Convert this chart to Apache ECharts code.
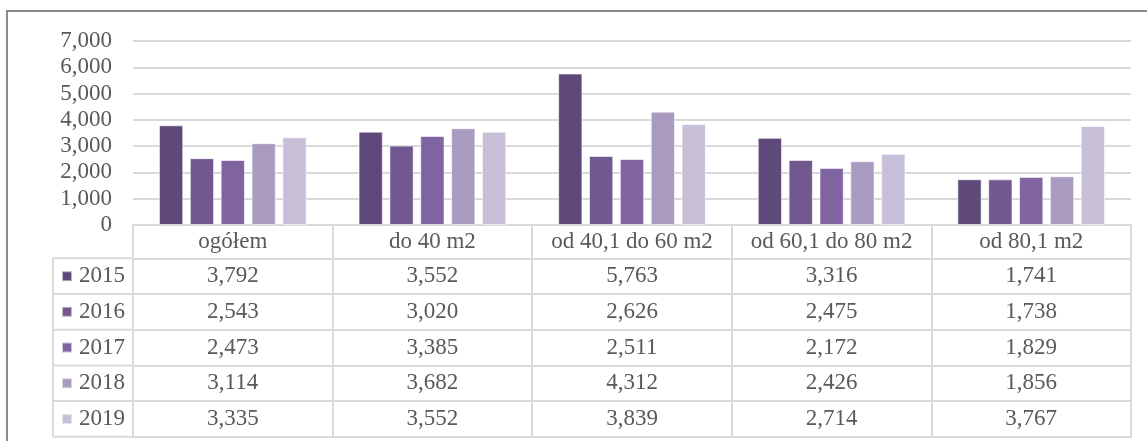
<!DOCTYPE html>
<html>
<head>
<meta charset="utf-8">
<script src="https://cdn.jsdelivr.net/npm/echarts@6/dist/echarts.min.js"></script>
<style>
    html, body { margin: 0; padding: 0; background: #fff; }
    #chart { width: 1147px; height: 441px; }
</style>
</head>
<body>
<div id="chart"></div>
<script>
var categories = ['ogółem', 'do 40 m2', 'od 40,1 do 60 m2', 'od 60,1 do 80 m2', 'od 80,1 m2'];
var years = ['2015', '2016', '2017', '2018', '2019'];
var s2015 = [3792, 3552, 5763, 3316, 1741];
var s2016 = [2543, 3020, 2626, 2475, 1738];
var s2017 = [2473, 3385, 2511, 2172, 1829];
var s2018 = [3114, 3682, 4312, 2426, 1856];
var s2019 = [3335, 3552, 3839, 2714, 3767];
var yTicks = [0, 1000, 2000, 3000, 4000, 5000, 6000, 7000];

var seriesData = [s2015, s2016, s2017, s2018, s2019];
var colors = ['#5f497a', '#71588f', '#8064a2', '#a99bbf', '#c7bfd8'];

var font = "'Liberation Serif', 'DejaVu Serif', serif";
var textColor = '#595959';
var lineColor = '#d9d9d9';

// layout of the plot and data table
var gridLeft = 133, gridRight = 16, gridTop = 41, baseY = 225;
var headH = 33.3, rowH = 35.7, legendColW = 80;

function fmt(v) {
    return String(v).replace(/\B(?=(\d{3})+(?!\d))/g, ',');
}

var chart = echarts.init(document.getElementById('chart'));

var xAxes = [{
    type: 'category',
    data: categories,
    position: 'bottom',
    axisLine: { show: true, lineStyle: { color: lineColor, width: 2 } },
    axisTick: { show: true, interval: 0, length: headH, lineStyle: { color: lineColor, width: 2 } },
    axisLabel: {
        interval: 0, margin: 5, color: textColor, fontFamily: font, fontSize: 23, lineHeight: 24
    }
}];

// one axis per table row, labels show that year's values
seriesData.forEach(function (vals, i) {
    xAxes.push({
        type: 'category',
        data: categories,
        position: 'bottom',
        offset: headH + i * rowH,
        axisLine: { show: true, lineStyle: { color: lineColor, width: 2 } },
        axisTick: { show: true, interval: 0, length: rowH, lineStyle: { color: lineColor, width: 2 } },
        axisLabel: {
            interval: 0, margin: 6, color: textColor, fontFamily: font, fontSize: 23, lineHeight: 24,
            formatter: function (v, idx) { return fmt(vals[idx]); }
        }
    });
});

// closing line under the last row
xAxes.push({
    type: 'category',
    data: categories,
    position: 'bottom',
    offset: headH + 5 * rowH,
    axisLine: { show: true, lineStyle: { color: lineColor, width: 2 } },
    axisTick: { show: false },
    axisLabel: { show: false }
});

// legend column box
var tableTop = baseY + headH;
var graphics = [{
    type: 'rect',
    shape: { x: 7, y: 11, width: 1160, height: 460 },
    style: { fill: 'none', stroke: '#8c8c8c', lineWidth: 2 },
    silent: true
}, {
    type: 'line',
    shape: { x1: gridLeft - legendColW, y1: tableTop, x2: gridLeft - legendColW, y2: tableTop + 5 * rowH },
    style: { stroke: lineColor, lineWidth: 2 }
}];
for (var r = 0; r <= 5; r++) {
    graphics.push({
        type: 'line',
        shape: { x1: gridLeft - legendColW, y1: tableTop + r * rowH, x2: gridLeft, y2: tableTop + r * rowH },
        style: { stroke: lineColor, lineWidth: 2 }
    });
}

var option = {
    animation: false,
    color: colors,
    textStyle: { fontFamily: font },
    grid: {
        left: gridLeft,
        right: gridRight,
        top: gridTop,
        bottom: 441 - baseY
    },
    legend: {
        orient: 'vertical',
        left: gridLeft - legendColW + 8,
        top: tableTop + (rowH - 24) / 2,
        padding: 0,
        itemGap: rowH - 24,
        itemWidth: 10,
        itemHeight: 10,
        icon: 'rect',
        data: years,
        textStyle: { color: textColor, fontFamily: font, fontSize: 23, lineHeight: 24, padding: [0, 0, 0, 2] }
    },
    xAxis: xAxes,
    yAxis: {
        type: 'value',
        min: yTicks[0],
        max: yTicks[yTicks.length - 1],
        interval: 1000,
        axisLine: { show: false },
        axisTick: { show: false },
        axisLabel: {
            margin: 21, color: textColor, fontFamily: font, fontSize: 23,
            formatter: function (v) { return fmt(v); }
        },
        splitLine: { lineStyle: { color: lineColor, width: 2 } }
    },
    series: years.map(function (y, i) {
        return {
            name: y,
            type: 'bar',
            data: seriesData[i],
            barCategoryGap: '26%',
            barGap: '27%',
            itemStyle: { color: colors[i], borderColor: 'rgba(255,255,255,0.6)', borderWidth: 1 }
        };
    }),
    graphic: graphics
};

chart.setOption(option);
</script>
</body>
</html>
